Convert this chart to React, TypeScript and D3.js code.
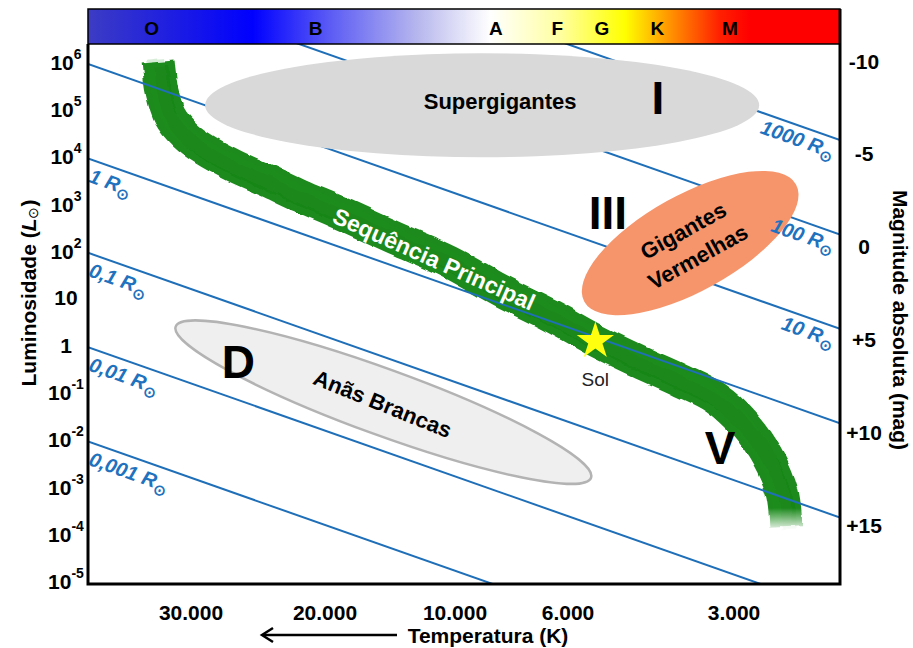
import React, { useRef, useEffect } from 'react';
import * as d3 from 'd3';

// luminosity ticks as powers of ten (L_sun)
const lumExponents = [6, 5, 4, 3, 2, 1, 0, -1, -2, -3, -4, -5];
const magTicks = [-10, -5, 0, 5, 10, 15];
const tempTicks = [30000, 20000, 10000, 6000, 3000];

const spectralClasses = ['O', 'B', 'A', 'F', 'G', 'K', 'M'];
const spectralTemps = [36000, 17800, 8200, 6300, 5200, 4100, 3000];

const radii = [1000, 100, 10, 1, 0.1, 0.01, 0.001];
const radiusNames = ['1000', '100', '10', '1', '0,1', '0,01', '0,001'];

// main sequence ridge: temperature (K) and luminosity (L_sun)
const msTemps = [35000, 34400, 33300, 31200, 28600, 25200, 21600, 19000, 16000, 12400, 9990, 8060, 6500, 5360, 4420, 3720, 3200, 2810, 2550, 2400, 2360];
const msLums = [9.1e5, 2.1e5, 6.5e4, 2.6e4, 1.24e4, 5660, 2590, 1310, 571, 153, 52, 13.3, 3.9, 1.16, 0.4, 0.165, 0.069, 0.018, 0.0037, 7.0e-4, 1.33e-4];

const solTemp = 5350;
const solLum = 1;
// temperature where the 1 R_sun line reaches 1 L_sun in the drawing
const lineRefTemp = 4970;

// regions (center temperature / luminosity)
const regionNames = ['Supergigantes', 'Gigantes Vermelhas', 'Anãs Brancas'];
const regionTemps = [8700, 3560, 13300];
const regionLums = [1.1e5, 132, 0.056];

const classNames = ['I', 'III', 'V', 'D'];
const classTemps = [4090, 5070, 3130, 24800];
const classLums = [1.6e5, 570, 0.006, 0.4];

const W = 913;
const H = 648;
const FONT = '"Liberation Sans", Arial, sans-serif';

const HRDiagram = () => {
  const svgRef = useRef<SVGSVGElement>(null);

  useEffect(() => {
    if (!svgRef.current) return;
    const svg = d3.select(svgRef.current);
    svg.selectAll('*').remove();

    const left = 88, right = 840, top = 44, bottom = 584, barTop = 9;

    const x = d3.scaleLog().domain([30000, 3000]).range([194, 730]);
    const xTick = d3.scaleLog().domain(tempTicks).range([191, 325, 455, 568, 734]);
    const y = d3.scaleLog().domain([1e-5, 1e6]).range([579, 60]);
    const mag = d3.scaleLinear().domain([-10, 15]).range([61, 525]);

    const defs = svg.append('defs');

    // spectral colour bar
    const grad = defs.append('linearGradient').attr('id', 'specGrad')
      .attr('x1', 0).attr('x2', 1).attr('y1', 0).attr('y2', 0);
    [
      [0, '#3c3cc4'], [0.219, '#0000ff'], [0.32, '#5a5af5'], [0.44, '#b8b8ee'],
      [0.535, '#ffffff'], [0.628, '#ffffa0'], [0.714, '#ffff00'], [0.767, '#ffa000'],
      [0.84, '#ff2000'], [0.88, '#ff0000'], [1, '#ff0000']
    ].forEach(([o, c]) => grad.append('stop').attr('offset', o as number).attr('stop-color', c as string));

    defs.append('clipPath').attr('id', 'plotClip')
      .append('rect').attr('x', left).attr('y', top).attr('width', right - left).attr('height', bottom - top);

    // rough brush edge
    const filt = defs.append('filter').attr('id', 'brush')
      .attr('x', '-5%').attr('y', '-5%').attr('width', '110%').attr('height', '110%');
    filt.append('feTurbulence').attr('type', 'fractalNoise').attr('baseFrequency', 0.06)
      .attr('numOctaves', 2).attr('seed', 3).attr('result', 'noise');
    filt.append('feDisplacementMap').attr('in', 'SourceGraphic').attr('in2', 'noise')
      .attr('scale', 5).attr('xChannelSelector', 'R').attr('yChannelSelector', 'G');

    const yEnd = y(msLums[msLums.length - 1]);
    const fade = defs.append('linearGradient').attr('id', 'msFade')
      .attr('gradientUnits', 'userSpaceOnUse')
      .attr('x1', 0).attr('x2', 0).attr('y1', yEnd - 18).attr('y2', yEnd + 6);
    fade.append('stop').attr('offset', 0).attr('stop-color', 'white');
    fade.append('stop').attr('offset', 1).attr('stop-color', 'black');
    defs.append('mask').attr('id', 'msMask').attr('maskUnits', 'userSpaceOnUse')
      .attr('x', 0).attr('y', 0).attr('width', W).attr('height', H)
      .append('rect').attr('width', W).attr('height', H).attr('fill', 'url(#msFade)');

    // main sequence band
    const msPts = msTemps.map((t, i) => [x(t), y(msLums[i])] as [number, number]);
    const ridge = d3.line().curve(d3.curveCatmullRom.alpha(0.5));
    const band = svg.append('g').attr('mask', 'url(#msMask)').append('g').attr('filter', 'url(#brush)');
    band.append('path').attr('d', ridge(msPts)).attr('fill', 'none')
      .attr('stroke', '#1b8a1b').attr('stroke-width', 33);
    band.append('path').attr('d', ridge(msPts)).attr('fill', 'none')
      .attr('stroke', '#2f9a2f').attr('stroke-width', 18).attr('opacity', 0.18)
      .attr('transform', 'translate(-3,-3)');
    band.append('path').attr('d', ridge(msPts)).attr('fill', 'none')
      .attr('stroke', '#137513').attr('stroke-width', 14).attr('opacity', 0.18)
      .attr('transform', 'translate(3,4)');

    // constant radius lines: L = R^2 (T / T_ref)^4
    const lumAt = (r: number, t: number) => r * r * Math.pow(t / lineRefTemp, 4);
    const lineY = (r: number, px: number) => y(lumAt(r, x.invert(px)));
    const lines = svg.append('g').attr('clip-path', 'url(#plotClip)');
    radii.forEach(r => {
      lines.append('line')
        .attr('x1', left).attr('y1', lineY(r, left))
        .attr('x2', right).attr('y2', lineY(r, right))
        .attr('stroke', '#1f6fb8').attr('stroke-width', 2);
    });
    const angle = Math.atan2(lineY(1, right) - lineY(1, left), right - left) * 180 / Math.PI;

    // regions
    svg.append('ellipse')
      .attr('cx', x(regionTemps[0])).attr('cy', y(regionLums[0]))
      .attr('rx', 277).attr('ry', 52).attr('fill', '#d9d9d9');
    svg.append('text')
      .attr('x', x(regionTemps[0]) + 18).attr('y', y(regionLums[0]) - 4)
      .attr('text-anchor', 'middle').attr('dominant-baseline', 'central')
      .attr('font-family', FONT).attr('font-weight', 'bold').attr('font-size', 22)
      .text(regionNames[0]);

    const rg = svg.append('g')
      .attr('transform', `translate(${x(regionTemps[1])},${y(regionLums[1])}) rotate(-29)`);
    rg.append('ellipse').attr('rx', 121).attr('ry', 48).attr('fill', '#f6956b');
    regionNames[1].split(' ').forEach((w, i) => {
      rg.append('text').attr('y', i === 0 ? -14 : 16)
        .attr('text-anchor', 'middle').attr('dominant-baseline', 'central')
        .attr('font-family', FONT).attr('font-weight', 'bold').attr('font-size', 22)
        .text(w);
    });

    const wd = svg.append('g')
      .attr('transform', `translate(${x(regionTemps[2])},${y(regionLums[2])}) rotate(20)`);
    wd.append('ellipse').attr('rx', 221).attr('ry', 33)
      .attr('fill', '#efefef').attr('stroke', '#b3b3b3').attr('stroke-width', 2.5);
    wd.append('text').attr('y', 2).attr('transform', 'rotate(2)')
      .attr('text-anchor', 'middle').attr('dominant-baseline', 'central')
      .attr('font-family', FONT).attr('font-weight', 'bold').attr('font-size', 22)
      .text(regionNames[2]);

    // radius labels (on top of the regions)
    radii.forEach((r, i) => {
      const onLeft = r <= 1;
      const px = onLeft ? 95 : 839;
      const t = svg.append('text')
        .attr('transform', `translate(${px},${lineY(r, px)}) rotate(${angle})`)
        .attr('y', onLeft ? 22 : 20)
        .attr('text-anchor', onLeft ? 'start' : 'end')
        .attr('font-family', FONT).attr('font-weight', 'bold').attr('font-style', 'italic')
        .attr('font-size', 20).attr('fill', '#1f72bd');
      t.append('tspan').text(`${radiusNames[i]} R`);
      t.append('tspan').attr('font-size', 15).attr('font-style', 'normal').attr('dy', 5).text('\u2299');
    });

    // luminosity class numerals
    classNames.forEach((c, i) => {
      svg.append('text')
        .attr('x', x(classTemps[i])).attr('y', y(classLums[i]))
        .attr('text-anchor', 'middle').attr('dominant-baseline', 'central')
        .attr('font-family', FONT).attr('font-weight', 'bold').attr('font-size', 46)
        .text(c);
    });

    // main sequence label
    svg.append('text')
      .attr('transform', `translate(${x(10700)},${y(60)}) rotate(24)`)
      .attr('text-anchor', 'middle').attr('dominant-baseline', 'central')
      .attr('font-family', FONT).attr('font-weight', 'bold').attr('font-size', 23)
      .attr('fill', '#ffffff')
      .text('Sequência Principal');

    // the Sun
    svg.append('path')
      .attr('transform', `translate(${x(solTemp)},${y(solLum) - 2})`)
      .attr('d', d3.symbol().type(d3.symbolStar).size(430)())
      .attr('fill', '#ffff10');
    svg.append('text')
      .attr('x', x(solTemp)).attr('y', y(solLum) + 36)
      .attr('text-anchor', 'middle').attr('dominant-baseline', 'central')
      .attr('font-family', FONT).attr('font-size', 19).attr('fill', '#222')
      .text('Sol');

    // spectral bar
    svg.append('rect').attr('x', left).attr('y', barTop)
      .attr('width', right - left).attr('height', top - barTop)
      .attr('fill', 'url(#specGrad)').attr('stroke', '#000').attr('stroke-width', 1.5);
    spectralClasses.forEach((c, i) => {
      svg.append('text')
        .attr('x', x(spectralTemps[i])).attr('y', 28)
        .attr('text-anchor', 'middle').attr('dominant-baseline', 'central')
        .attr('font-family', FONT).attr('font-weight', 'bold').attr('font-size', 19)
        .text(c);
    });

    // frame
    svg.append('path')
      .attr('d', `M${left},${top}V${bottom}H${right}V${barTop}`)
      .attr('fill', 'none').attr('stroke', '#000').attr('stroke-width', 3);

    // left ticks
    lumExponents.forEach(e => {
      const t = svg.append('text')
        .attr('x', 66).attr('y', y(Math.pow(10, e)) + 2)
        .attr('text-anchor', 'middle').attr('dominant-baseline', 'central')
        .attr('font-family', FONT).attr('font-weight', 'bold').attr('font-size', 21);
      if (e === 0) t.text('1');
      else if (e === 1) t.text('10');
      else {
        t.append('tspan').text('10');
        t.append('tspan').attr('font-size', 14).attr('dy', -8).text(String(e));
      }
    });

    // right ticks
    magTicks.forEach(m => {
      svg.append('text')
        .attr('x', 864).attr('y', mag(m))
        .attr('text-anchor', 'middle').attr('dominant-baseline', 'central')
        .attr('font-family', FONT).attr('font-weight', 'bold').attr('font-size', 21)
        .text(m > 0 ? `+${m}` : String(m));
    });

    // bottom ticks
    const fmt = d3.formatLocale({ decimal: ',', thousands: '.', grouping: [3], currency: ['', ''] }).format(',');
    tempTicks.forEach(t => {
      svg.append('text')
        .attr('x', xTick(t)).attr('y', 612)
        .attr('text-anchor', 'middle').attr('dominant-baseline', 'central')
        .attr('font-family', FONT).attr('font-weight', 'bold').attr('font-size', 21)
        .text(fmt(t));
    });

    // axis titles
    const yl = svg.append('text')
      .attr('transform', 'translate(28,293) rotate(-90)')
      .attr('text-anchor', 'middle').attr('dominant-baseline', 'central')
      .attr('font-family', FONT).attr('font-weight', 'bold').attr('font-size', 21);
    yl.append('tspan').text('Luminosidade (');
    yl.append('tspan').attr('font-style', 'italic').text('L');
    yl.append('tspan').attr('font-size', 14).attr('font-weight', 'normal').attr('dy', 5).text('\u2299');
    yl.append('tspan').attr('dy', -5).text(')');

    svg.append('text')
      .attr('transform', 'translate(900,320) rotate(90)')
      .attr('text-anchor', 'middle').attr('dominant-baseline', 'central')
      .attr('font-family', FONT).attr('font-weight', 'bold').attr('font-size', 21)
      .text('Magnitude absoluta (mag)');

    svg.append('text')
      .attr('x', 488).attr('y', 635)
      .attr('text-anchor', 'middle').attr('dominant-baseline', 'central')
      .attr('font-family', FONT).attr('font-weight', 'bold').attr('font-size', 21)
      .text('Temperatura (K)');

    // arrow towards hotter temperatures
    svg.append('line').attr('x1', 397).attr('y1', 635).attr('x2', 263).attr('y2', 635)
      .attr('stroke', '#000').attr('stroke-width', 2.5);
    svg.append('path').attr('d', 'M273,628L262,635L273,642')
      .attr('fill', 'none').attr('stroke', '#000').attr('stroke-width', 2.5);
  }, []);

  return (
    <svg ref={svgRef} width={W} height={H}
      style={{ position: 'absolute', left: 0, top: 0, background: '#fff' }} />
  );
};

export default function App() {
  return <HRDiagram />;
}
